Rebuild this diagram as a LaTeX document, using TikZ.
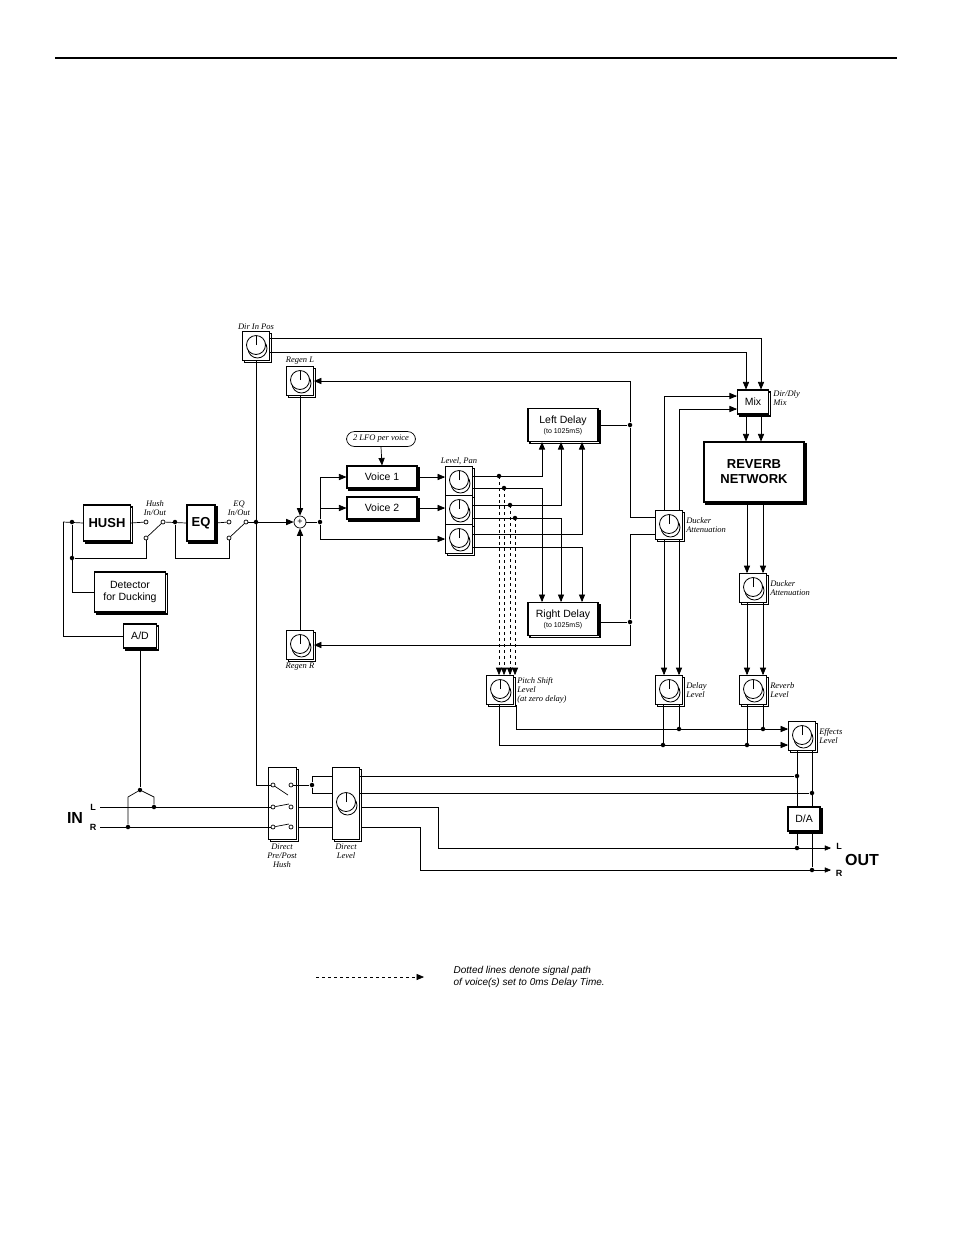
\documentclass[tikz,border=0pt]{standalone}
\usepackage{fontspec}
\setmainfont{Liberation Sans}
\newfontfamily\lblfont{Liberation Serif}
\usetikzlibrary{arrows,shapes,shadows,backgrounds,positioning}

\tikzset{
  blk/.style={draw, fill=white, line width=1.1pt, inner sep=0pt, align=center,
    copy shadow={shadow xshift=2pt, shadow yshift=-2pt}, font=\fontsize{10.5}{12}\selectfont},
  bigtxt/.style={font=\bfseries\fontsize{13}{15}\selectfont},
  pot/.style={draw, fill=white, line width=0.8pt, minimum width=27pt, minimum height=29pt,
    copy shadow={shadow xshift=2pt, shadow yshift=-2pt},
    path picture={
      \draw[fill=white] ([xshift=1.5pt,yshift=-2.5pt]path picture bounding box.center) circle (9.5pt);
      \draw[fill=white] ([yshift=1pt]path picture bounding box.center) circle (9.5pt);
      \draw ([yshift=1pt]path picture bounding box.center) -- ++(0,9.5pt);}},
  lbl/.style={font=\lblfont\itshape\fontsize{8.5}{9}\selectfont, align=left, inner sep=1pt},
  dot/.style={circle, fill, inner sep=0pt, minimum size=4.5pt},
  ct/.style={circle, draw, fill=white, inner sep=0pt, minimum size=4pt},
  sig/.style={->, >=triangle 45},
  dly/.style={sig, dashed},
  chl/.style={font=\bfseries\fontsize{9}{9}\selectfont},
}

\begin{document}
\begin{tikzpicture}[x=1pt, y=-1pt, line width=0.7pt]
\useasboundingbox (0,0) rectangle (954,1235);
\draw[line width=1.5pt] (55,58) -- (897,58);

% blocks
\node[blk, bigtxt, minimum width=47, minimum height=36] (hush) at (107,523) {HUSH};
\node[blk, bigtxt, minimum width=28, minimum height=36] (eq) at (201,523) {EQ};
\node[blk, minimum width=71, minimum height=40] (det) at (130,592) {Detector\\for Ducking};
\node[blk, minimum width=33, minimum height=24] (ad) at (140,636) {A/D};
\node[draw, circle, minimum size=12, inner sep=0pt, font=\small] (sum) at (300,522) {+};
\node[draw, rounded corners=8pt, minimum width=69, minimum height=15, lbl] (lfo) at (381,439) {2 LFO per voice};
\node[blk, minimum width=70, minimum height=22] (v1) at (382,477) {Voice 1};
\node[blk, minimum width=70, minimum height=22] (v2) at (382,508) {Voice 2};
\node[blk, minimum width=70, minimum height=33] (ld) at (563,425) {Left Delay\\[-2pt]{\scriptsize (to 1025mS)}};
\node[blk, minimum width=70, minimum height=33] (rd) at (563,619) {Right Delay\\[-2pt]{\scriptsize (to 1025mS)}};
\node[blk, minimum width=31, minimum height=24] (mix) at (753,402) {Mix};
\node[blk, bigtxt, minimum width=100, minimum height=60] (rev) at (754,472) {REVERB\\NETWORK};
\node[blk, minimum width=32, minimum height=24] (da) at (804,819) {D/A};

% pots
\node[pot] (dip) at (256,346) {};
\node[pot] (rgl) at (300,381) {};
\node[pot] (rgr) at (300,645) {};
\node[pot] (lp1) at (459,481) {};
\node[pot] (lp2) at (459,510) {};
\node[pot] (lp3) at (459,539) {};
\node[pot] (ps) at (500,690) {};
\node[pot] (dk1) at (669,525) {};
\node[pot] (dk2) at (753,588) {};
\node[pot] (dl) at (669,690) {};
\node[pot] (rl) at (753,690) {};
\node[pot] (fx) at (802,736) {};
\node[draw, fill=white, line width=0.8pt, minimum width=28, minimum height=72,
  copy shadow={shadow xshift=2pt, shadow yshift=-2pt}] (dsw) at (282,803) {};
\node[pot, minimum height=72] (dlv) at (346,803) {};

% labels
\node[lbl, above=0pt of dip] {Dir In Pos};
\node[lbl, above=0pt of rgl] {Regen L};
\node[lbl, below=2pt of rgr] {Regen R};
\node[lbl, above=0pt of lp1] {Level, Pan};
\node[lbl, align=center] at (155,508) {Hush\\In/Out};
\node[lbl, align=center] at (239,508) {EQ\\In/Out};
\node[lbl, right=3pt of mix.north east, anchor=north west] {Dir/Dly\\Mix};
\node[lbl, right=2pt of dk1] {Ducker\\Attenuation};
\node[lbl, right=2pt of dk2] {Ducker\\Attenuation};
\node[lbl, right=2pt of ps] {Pitch Shift\\Level\\(at zero delay)};
\node[lbl, right=2pt of dl] {Delay\\Level};
\node[lbl, right=2pt of rl] {Reverb\\Level};
\node[lbl, right=2pt of fx] {Effects\\Level};
\node[lbl, align=center, below=3pt of dsw] {Direct\\Pre/Post\\Hush};
\node[lbl, align=center, below=3pt of dlv] {Direct\\Level};
\node[font=\bfseries\fontsize{16}{16}\selectfont] (in) at (75,818) {IN};
\node[chl] at (93,807) {L};
\node[chl] at (93,827) {R};
\node[font=\bfseries\fontsize{16}{16}\selectfont] (out) at (862,860) {OUT};
\node[chl] at (839,846) {L};
\node[chl] at (839,873) {R};

% input, hush, eq
\coordinate (inn) at (63,522);
\draw (inn) -- (hush.west);
\draw (inn) |- (ad.west);
\node[dot] (j1) at (72,522) {};
\node[dot] (j2) at (72,558) {};
\draw (j1) |- (det.west);
\node[ct] (h1) at (146,522) {};
\node[ct] (h2) at (163,522) {};
\node[ct] (h3) at (146,538) {};
\draw (hush.east) -- (h1);
\draw (j2) -| (h3);
\draw (h3) -- (h2);
\node[dot] (j3) at (175,522) {};
\draw (h2) -- (eq.west);
\node[ct] (e1) at (229,522) {};
\node[ct] (e2) at (246,522) {};
\node[ct] (e3) at (229,538) {};
\draw (eq.east) -- (e1);
\draw (j3) -- (175,558) -| (e3);
\draw (e3) -- (e2);
\node[dot] (j4) at (256,522) {};
\draw[sig] (e2) -- (sum.west);
\draw (dip.south) -- (j4);

% regen and voices
\draw[sig] (rgl.south) -- (sum.north);
\draw[sig] (rgr.north) -- (sum.south);
\node[dot] (j5) at (320,522) {};
\draw (sum.east) -- (j5);
\draw[sig] (j5) |- (v1.west);
\draw[sig] (j5) |- (v2.west);
\draw[sig] (j5) |- (lp3.west);
\draw[sig] (lfo.south) -- (v1.north);
\draw[sig] (v1.east) -- (v1.east -| lp1.west);
\draw[sig] (v2.east) -- (v2.east -| lp2.west);

% pan pots to delays
\draw[sig] (lp1.east |- 0,476) -| (542,0 |- ld.south);
\draw[sig] (lp1.east |- 0,488) -| (542,0 |- rd.north);
\draw[sig] (lp2.east |- 0,505) -| (561,0 |- ld.south);
\draw[sig] (lp2.east |- 0,518) -| (561,0 |- rd.north);
\draw[sig] (lp3.east |- 0,534) -| (582,0 |- ld.south);
\draw[sig] (lp3.east |- 0,547) -| (582,0 |- rd.north);
\foreach \x/\y in {499/476, 504/488, 510/505, 515/518} {
  \node[dot] at (\x,\y) {};
  \draw[dly] (\x,\y) -- (\x,0 |- ps.north);
}

% delays to regen and ducker
\node[dot] (j6) at (630,425) {};
\node[dot] (j7) at (630,622) {};
\draw (ld.east |- j6) -- (j6);
\draw (rd.east |- j7) -- (j7);
\draw[sig] (j6) |- (rgl.east);
\draw[sig] (j7) |- (rgr.east);
\draw (j6) |- (dk1.west |- 0,517);
\draw (j7) |- (dk1.west |- 0,534);
\draw[sig] (664,0 |- dk1.north) |- (mix.west |- 0,396);
\draw[sig] (679,0 |- dk1.north) |- (mix.west |- 0,409);
\draw[sig] (664,0 |- dk1.south) -- (664,0 |- dl.north);
\draw[sig] (679,0 |- dk1.south) -- (679,0 |- dl.north);

% dir in to mix, reverb chain
\draw[sig] (dip.east |- 0,338) -| (761,0 |- mix.north);
\draw[sig] (dip.east |- 0,352) -| (746,0 |- mix.north);
\draw[sig] (746,0 |- mix.south) -- (746,0 |- rev.north);
\draw[sig] (761,0 |- mix.south) -- (761,0 |- rev.north);
\draw[sig] (747,0 |- rev.south) -- (747,0 |- dk2.north);
\draw[sig] (763,0 |- rev.south) -- (763,0 |- dk2.north);
\draw[sig] (747,0 |- dk2.south) -- (747,0 |- rl.north);
\draw[sig] (763,0 |- dk2.south) -- (763,0 |- rl.north);

% effects mix
\draw[sig] (516,0 |- ps.south) |- (fx.west |- 0,729);
\draw[sig] (499,0 |- ps.south) |- (fx.west |- 0,745);
\foreach \x/\y in {679/729, 663/745, 763/729, 747/745} {
  \node[dot] at (\x,\y) {};
}
\draw (679,0 |- dl.south) -- (679,729);
\draw (663,0 |- dl.south) -- (663,745);
\draw (763,0 |- rl.south) -- (763,729);
\draw (747,0 |- rl.south) -- (747,745);
\node[dot] (j8) at (797,776) {};
\node[dot] (j9) at (812,793) {};
\draw (797,0 |- fx.south) -- (797,0 |- da.north);
\draw (812,0 |- fx.south) -- (812,0 |- da.north);
\node[dot] (j10) at (797,848) {};
\node[dot] (j11) at (812,870) {};
\draw (797,0 |- da.south) -- (j10);
\draw (812,0 |- da.south) -- (j11);
\coordinate (outl) at (831,848);
\coordinate (outr) at (831,870);

% inputs L/R and direct path
\coordinate (inl) at (100,807);
\coordinate (inr) at (100,827);
\node[dot] (j12) at (140,790) {};
\node[dot] (j13) at (154,807) {};
\node[dot] (j14) at (128,827) {};
\draw (ad.south) -- (j12);
\draw (j12) -- (154,797) -- (j13);
\draw (j12) -- (128,797) -- (j14);
\node[ct] (s1) at (273,785) {};
\node[ct] (s2) at (291,785) {};
\node[ct] (s3) at (273,807) {};
\node[ct] (s4) at (291,807) {};
\node[ct] (s5) at (273,827) {};
\node[ct] (s6) at (291,827) {};
\draw (s1) -- (288,795);
\draw (s3) -- (289,804);
\draw (s5) -- (289,824);
\draw (256,0 |- dip.south) |- (s1);
\draw (inl) -- (s3);
\draw (inr) -- (s5);
\node[dot] (j15) at (312,785) {};
\draw (s2) -- (j15);
\draw (j15) |- (dlv.west |- 0,776);
\draw (j15) |- (dlv.west |- 0,793);
\draw (dlv.east |- 0,776) -- (j8);
\draw (dlv.east |- 0,793) -- (j9);
\begin{scope}[on background layer]
  \draw[sig] (s4) -| (438,848) -- (outl);
  \draw[sig] (s6) -| (420,870) -- (outr);
\end{scope}

% legend
\coordinate (lg1) at (316,977);
\coordinate (lg2) at (424,977);
\draw[dly] (lg1) -- (lg2);
\node[anchor=west, align=left, font=\itshape\fontsize{10}{12}\selectfont] at (450,977)
  {Dotted lines denote signal path\\of voice(s) set to 0ms Delay Time.};
\end{tikzpicture}
\end{document}
